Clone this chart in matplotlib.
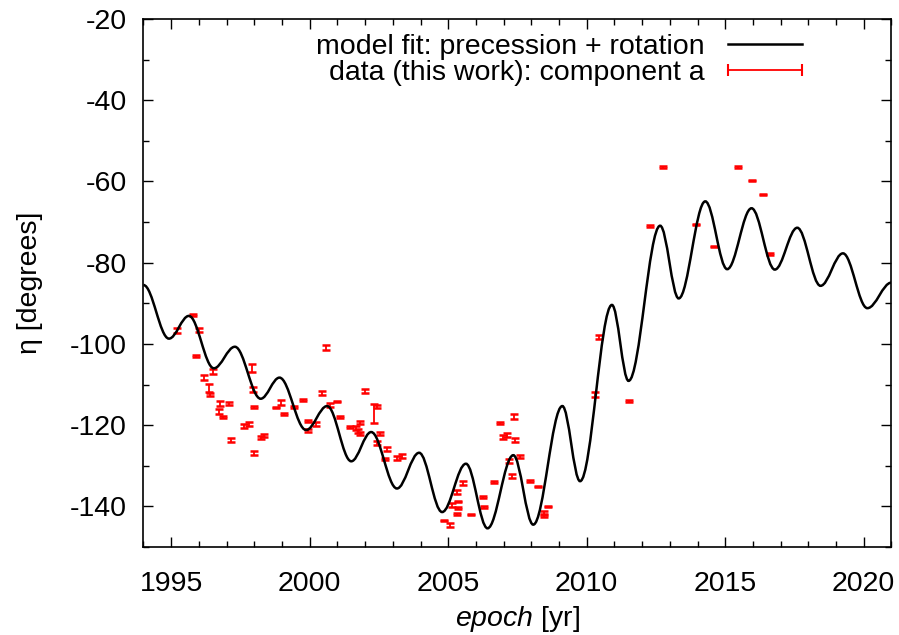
import numpy as np
import matplotlib
matplotlib.use("Agg")
import matplotlib.pyplot as plt
from matplotlib.path import Path
from matplotlib.patches import PathPatch
from matplotlib.lines import Line2D
from matplotlib.ticker import MultipleLocator

plt.rcParams['font.family'] = ['Liberation Sans', 'DejaVu Sans']
plt.rcParams['mathtext.fontset'] = 'custom'
plt.rcParams['mathtext.rm'] = 'Liberation Sans'
plt.rcParams['mathtext.it'] = 'Liberation Sans:italic'
plt.rcParams['axes.unicode_minus'] = False

FS = 20.5

# model curve: turning points (max/min) of the fit, epoch [yr] and eta [deg]
fit_epoch = [1994.0, 1994.92, 1995.64, 1996.54, 1997.30, 1998.23, 1998.91, 1999.87,
             2000.63, 2001.50, 2002.22, 2003.15, 2003.95, 2004.78, 2005.64, 2006.42,
             2007.35, 2008.07, 2009.12, 2009.76, 2010.91, 2011.51, 2012.65, 2013.32,
             2014.28, 2015.07, 2015.95, 2016.79, 2017.60, 2018.44, 2019.25, 2020.13,
             2021.0]
fit_eta = [-85.5, -98.7, -93.1, -106.0, -100.7, -113.5, -108.3, -121.2,
           -115.3, -128.9, -121.7, -135.6, -126.8, -141.4, -129.5, -145.4,
           -127.4, -144.5, -115.3, -133.8, -90.4, -109.1, -70.9, -88.8,
           -64.9, -81.6, -66.6, -81.7, -71.4, -85.7, -77.7, -91.2,
           -84.9]

# component a measurements
epoch = [1995.22, 1995.79, 1996.00, 1995.91, 1996.18, 1996.52, 1996.35, 1996.41,
         1996.77, 1996.71, 1996.88, 1997.07, 1997.16, 1997.91, 1997.97, 1997.98,
         1998.00, 1997.64, 1997.82, 1998.24, 1998.36, 1998.79, 1998.97, 1999.06,
         1999.45, 1999.75, 1999.93, 1999.93, 2000.23, 2000.60, 2000.44, 2000.75,
         2001.00, 2001.10, 2001.47, 2001.68, 2001.80, 2001.74, 2001.80, 2001.98,
         2002.31, 2002.42, 2002.52, 2002.43, 2002.78, 2002.72, 2003.14, 2003.33,
         2004.84, 2005.06, 2005.13, 2005.34, 2005.30, 2005.36, 2005.33, 2005.53,
         2005.82, 2006.26, 2006.29, 2006.65, 2006.87, 2007.37, 2006.96, 2007.11,
         2007.41, 2007.20, 2007.59, 2007.29, 2007.95, 2008.25, 2008.61, 2008.46,
         2008.46, 2010.45, 2010.30, 2011.51, 2012.29, 2012.77, 2013.96, 2014.58,
         2015.45, 2015.95, 2016.36, 2016.63]
eta = [-96.8, -92.9, -96.5, -103.0, -108.3, -106.8, -110.9, -112.4,
       -114.7, -116.7, -118.0, -114.6, -123.7, -105.9, -111.2, -115.5,
       -126.8, -120.2, -119.7, -123.0, -122.5, -115.7, -114.5, -117.2,
       -115.5, -113.8, -119.0, -121.3, -119.8, -100.9, -112.1, -115.0,
       -114.2, -118.0, -120.5, -120.7, -119.3, -121.5, -122.1, -111.6,
       -117.2, -115.4, -122.1, -124.4, -125.8, -128.3, -128.1, -127.6,
       -143.5, -144.5, -139.6, -140.4, -141.9, -138.8, -136.5, -134.3,
       -142.0, -137.7, -140.2, -134.0, -119.4, -117.9, -123.0, -122.5,
       -123.6, -128.9, -127.7, -132.5, -133.7, -135.1, -140.0, -141.5,
       -142.4, -98.3, -112.4, -114.1, -70.9, -56.5, -70.6, -76.0,
       -56.5, -59.8, -63.2, -77.9]
eta_err = [0.6, 0.2, 0.5, 0.2, 0.6, 0.6, 1.0, 0.4,
           0.6, 0.6, 0.3, 0.4, 0.5, 1.0, 0.7, 0.3,
           0.5, 0.5, 0.5, 0.4, 0.4, 0.2, 0.6, 0.2,
           0.2, 0.2, 0.2, 0.3, 0.5, 0.7, 0.6, 0.5,
           0.2, 0.2, 0.2, 0.4, 0.4, 0.5, 0.4, 0.4,
           2.3, 0.4, 0.4, 0.5, 0.5, 0.2, 0.5, 0.5,
           0.2, 0.5, 0.5, 0.2, 0.2, 0.2, 0.5, 0.5,
           0.2, 0.2, 0.2, 0.2, 0.2, 0.6, 0.5, 0.5,
           0.5, 0.5, 0.3, 0.5, 0.2, 0.2, 0.2, 0.4,
           0.3, 0.6, 0.6, 0.2, 0.2, 0.2, 0.2, 0.2,
           0.2, 0.2, 0.2, 0.2]

fig = plt.figure(figsize=(8.99, 6.35), dpi=100)
ax = fig.add_axes([0.1596, 0.1386, 0.8320, 0.8315])

# smooth curve through the turning points (flat tangent at each one)
h = 0.36
verts = [(fit_epoch[0], fit_eta[0])]
codes = [Path.MOVETO]
for i in range(len(fit_epoch) - 1):
    x0, y0 = fit_epoch[i], fit_eta[i]
    x1, y1 = fit_epoch[i + 1], fit_eta[i + 1]
    dx = x1 - x0
    verts += [(x0 + h * dx, y0), (x1 - h * dx, y1), (x1, y1)]
    codes += [Path.CURVE4] * 3
ax.add_patch(PathPatch(Path(verts, codes), fill=False, edgecolor='black', lw=1.8,
                       zorder=3))

ax.errorbar(epoch, eta, yerr=eta_err, fmt='none', ecolor='red', elinewidth=1.3,
            capsize=3, capthick=1.8, zorder=2)

ax.set_xlim(1994, 2021)
ax.set_ylim(-150, -20)
ax.xaxis.set_major_locator(MultipleLocator(5))
ax.xaxis.set_minor_locator(MultipleLocator(1))
ax.yaxis.set_major_locator(MultipleLocator(20))
ax.yaxis.set_minor_locator(MultipleLocator(10))
ax.tick_params(which='both', direction='in', top=True, right=True, width=1.0)
ax.tick_params(which='major', length=7, labelsize=FS)
ax.tick_params(which='minor', length=4)
ax.tick_params(axis='x', which='major', pad=17)
ax.tick_params(axis='y', which='major', pad=12)
for s in ax.spines.values():
    s.set_linewidth(1.2)

ax.set_xlabel(r'$\mathit{epoch}$ [yr]', fontsize=FS, labelpad=5)
ax.set_ylabel('η [degrees]', fontsize=FS, labelpad=19)

handles = [Line2D([], [], color='black', lw=1.8),
           Line2D([], [], color='red', lw=1.3, marker='|', markersize=9, mew=1.5)]
labels = ['model fit: precession + rotation', 'data (this work): component a']
ax.legend(handles, labels, loc='upper right', bbox_to_anchor=(0.917, 1.006),
          frameon=False, markerfirst=False, numpoints=2, fontsize=FS,
          handlelength=3.2, handletextpad=0.53, labelspacing=0.0,
          borderaxespad=0.25)

fig.savefig('out.png', dpi=100)
